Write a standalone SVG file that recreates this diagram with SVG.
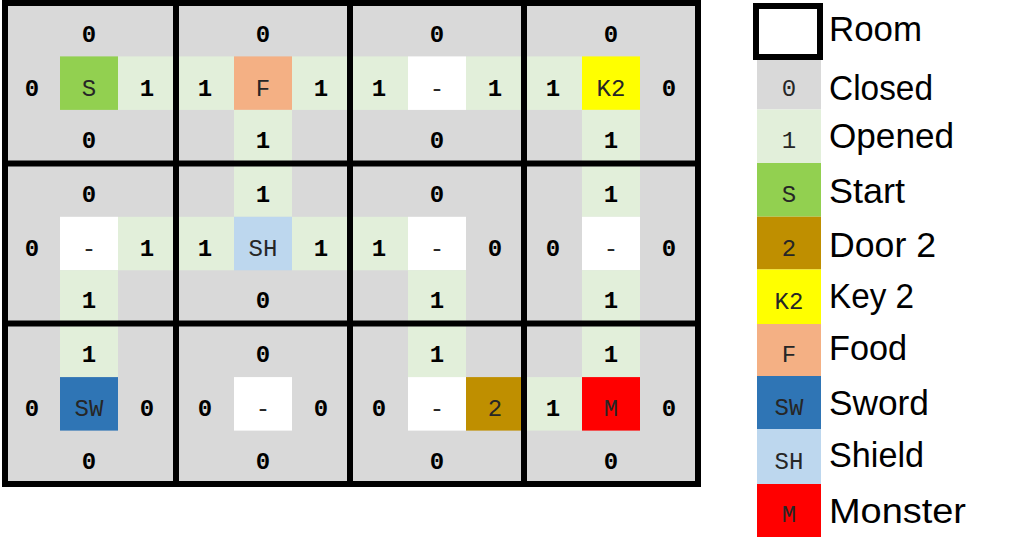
<svg xmlns="http://www.w3.org/2000/svg" width="1024" height="539" viewBox="0 0 1024 539">
<style>
.g{fill:#d9d9d9}
.o{fill:#e2efda}
.w{fill:#ffffff}
.st{fill:#92d050}
.fd{fill:#f4b084}
.ky{fill:#ffff00}
.dr{fill:#bf8f00}
.sw{fill:#2f75b5}
.sh{fill:#bdd7ee}
.mo{fill:#ff0000}
.n{font-family:"Liberation Mono",monospace;font-weight:bold;font-size:24px;fill:#000;text-anchor:middle}
.l{font-family:"Liberation Mono",monospace;font-size:24px;fill:#262626;text-anchor:middle}
.t{font-family:"Liberation Sans",Arial,sans-serif;font-size:35px;fill:#000}
.b{fill:none;stroke:#000;stroke-width:6}
</style>
<rect x="2" y="3" width="696" height="481" class="g"/>
<!-- Row 0 -->
<g id="room-0-0">
<text x="89" y="42" class="n">0</text>
<text x="32" y="96" class="n">0</text>
<rect x="60" y="56.4" width="58" height="53.5" class="st"/><text x="89" y="96" class="l">S</text>
<rect x="118" y="56.4" width="58" height="53.5" class="o"/><text x="147" y="96" class="n">1</text>
<text x="89" y="148" class="n">0</text>
</g>
<g id="room-0-1">
<text x="263" y="42" class="n">0</text>
<rect x="176" y="56.4" width="58" height="53.5" class="o"/><text x="205" y="96" class="n">1</text>
<rect x="234" y="56.4" width="58" height="53.5" class="fd"/><text x="263" y="96" class="l">F</text>
<rect x="292" y="56.4" width="58" height="53.5" class="o"/><text x="321" y="96" class="n">1</text>
<rect x="234" y="109.9" width="58" height="53.5" class="o"/><text x="263" y="148" class="n">1</text>
</g>
<g id="room-0-2">
<text x="437" y="42" class="n">0</text>
<rect x="350" y="56.4" width="58" height="53.5" class="o"/><text x="379" y="96" class="n">1</text>
<rect x="408" y="56.4" width="58" height="53.5" class="w"/><text x="437" y="96" class="l">-</text>
<rect x="466" y="56.4" width="58" height="53.5" class="o"/><text x="495" y="96" class="n">1</text>
<text x="437" y="148" class="n">0</text>
</g>
<g id="room-0-3">
<text x="611" y="42" class="n">0</text>
<rect x="524" y="56.4" width="58" height="53.5" class="o"/><text x="553" y="96" class="n">1</text>
<rect x="582" y="56.4" width="58" height="53.5" class="ky"/><text x="611" y="96" class="l">K2</text>
<text x="669" y="96" class="n">0</text>
<rect x="582" y="109.9" width="58" height="53.5" class="o"/><text x="611" y="148" class="n">1</text>
</g>
<!-- Row 1 -->
<g id="room-1-0">
<text x="89" y="202" class="n">0</text>
<text x="32" y="256" class="n">0</text>
<rect x="60" y="216.8" width="58" height="53.5" class="w"/><text x="89" y="256" class="l">-</text>
<rect x="118" y="216.8" width="58" height="53.5" class="o"/><text x="147" y="256" class="n">1</text>
<rect x="60" y="270.2" width="58" height="53.5" class="o"/><text x="89" y="308" class="n">1</text>
</g>
<g id="room-1-1">
<rect x="234" y="163.3" width="58" height="53.5" class="o"/><text x="263" y="202" class="n">1</text>
<rect x="176" y="216.8" width="58" height="53.5" class="o"/><text x="205" y="256" class="n">1</text>
<rect x="234" y="216.8" width="58" height="53.5" class="sh"/><text x="263" y="256" class="l">SH</text>
<rect x="292" y="216.8" width="58" height="53.5" class="o"/><text x="321" y="256" class="n">1</text>
<text x="263" y="308" class="n">0</text>
</g>
<g id="room-1-2">
<text x="437" y="202" class="n">0</text>
<rect x="350" y="216.8" width="58" height="53.5" class="o"/><text x="379" y="256" class="n">1</text>
<rect x="408" y="216.8" width="58" height="53.5" class="w"/><text x="437" y="256" class="l">-</text>
<text x="495" y="256" class="n">0</text>
<rect x="408" y="270.2" width="58" height="53.5" class="o"/><text x="437" y="308" class="n">1</text>
</g>
<g id="room-1-3">
<rect x="582" y="163.3" width="58" height="53.5" class="o"/><text x="611" y="202" class="n">1</text>
<text x="553" y="256" class="n">0</text>
<rect x="582" y="216.8" width="58" height="53.5" class="w"/><text x="611" y="256" class="l">-</text>
<text x="669" y="256" class="n">0</text>
<rect x="582" y="270.2" width="58" height="53.5" class="o"/><text x="611" y="308" class="n">1</text>
</g>
<!-- Row 2 -->
<g id="room-2-0">
<rect x="60" y="323.6" width="58" height="53.5" class="o"/><text x="89" y="362" class="n">1</text>
<text x="32" y="416" class="n">0</text>
<rect x="60" y="377.1" width="58" height="53.5" class="sw"/><text x="89" y="416" class="l">SW</text>
<text x="147" y="416" class="n">0</text>
<text x="89" y="469" class="n">0</text>
</g>
<g id="room-2-1">
<text x="263" y="362" class="n">0</text>
<text x="205" y="416" class="n">0</text>
<rect x="234" y="377.1" width="58" height="53.5" class="w"/><text x="263" y="416" class="l">-</text>
<text x="321" y="416" class="n">0</text>
<text x="263" y="469" class="n">0</text>
</g>
<g id="room-2-2">
<rect x="408" y="323.6" width="58" height="53.5" class="o"/><text x="437" y="362" class="n">1</text>
<text x="379" y="416" class="n">0</text>
<rect x="408" y="377.1" width="58" height="53.5" class="w"/><text x="437" y="416" class="l">-</text>
<rect x="466" y="377.1" width="58" height="53.5" class="dr"/><text x="495" y="416" class="l">2</text>
<text x="437" y="469" class="n">0</text>
</g>
<g id="room-2-3">
<rect x="582" y="323.6" width="58" height="53.5" class="o"/><text x="611" y="362" class="n">1</text>
<rect x="524" y="377.1" width="58" height="53.5" class="o"/><text x="553" y="416" class="n">1</text>
<rect x="582" y="377.1" width="58" height="53.5" class="mo"/><text x="611" y="416" class="l">M</text>
<text x="669" y="416" class="n">0</text>
<text x="611" y="469" class="n">0</text>
</g>
<g id="room-borders">
<rect x="5" y="3" width="693" height="481" class="b"/>
<line x1="176" y1="3" x2="176" y2="484" class="b"/>
<line x1="350" y1="3" x2="350" y2="484" class="b"/>
<line x1="524" y1="3" x2="524" y2="484" class="b"/>
<line x1="5" y1="163.5" x2="698" y2="163.5" class="b"/>
<line x1="5" y1="323.5" x2="698" y2="323.5" class="b"/>
</g>
<g id="legend">
<g id="legend-room"><rect x="756" y="6" width="64" height="51" fill="#fff" stroke="#000" stroke-width="6"/><text x="829" y="41" class="t" textLength="93" lengthAdjust="spacingAndGlyphs">Room</text></g>
<g id="legend-closed"><rect x="757" y="60" width="64" height="49.5" class="g"/><text x="789" y="96" class="l">0</text><text x="829" y="100" class="t" textLength="104" lengthAdjust="spacingAndGlyphs">Closed</text></g>
<g id="legend-opened"><rect x="757" y="109.5" width="64" height="53.5" class="o"/><text x="789" y="148" class="l">1</text><text x="829" y="148" class="t" textLength="125" lengthAdjust="spacingAndGlyphs">Opened</text></g>
<g id="legend-start"><rect x="757" y="163" width="64" height="53.7" class="st"/><text x="789" y="202" class="l">S</text><text x="829" y="203" class="t" textLength="76" lengthAdjust="spacingAndGlyphs">Start</text></g>
<g id="legend-door"><rect x="757" y="216.7" width="64" height="52.8" class="dr"/><text x="789" y="256" class="l">2</text><text x="829" y="257" class="t" textLength="107" lengthAdjust="spacingAndGlyphs">Door 2</text></g>
<g id="legend-key"><rect x="757" y="269.5" width="64" height="54.5" class="ky"/><text x="789" y="309" class="l">K2</text><text x="829" y="308" class="t" textLength="85" lengthAdjust="spacingAndGlyphs">Key 2</text></g>
<g id="legend-food"><rect x="757" y="324" width="64" height="52" class="fd"/><text x="789" y="362" class="l">F</text><text x="829" y="360" class="t" textLength="78" lengthAdjust="spacingAndGlyphs">Food</text></g>
<g id="legend-sword"><rect x="757" y="376" width="64" height="53" class="sw"/><text x="789" y="415" class="l">SW</text><text x="829" y="415" class="t" textLength="100" lengthAdjust="spacingAndGlyphs">Sword</text></g>
<g id="legend-shield"><rect x="757" y="429" width="64" height="55" class="sh"/><text x="789" y="469" class="l">SH</text><text x="829" y="467" class="t" textLength="95" lengthAdjust="spacingAndGlyphs">Shield</text></g>
<g id="legend-monster"><rect x="757" y="484" width="64" height="53" class="mo"/><text x="789" y="522" class="l">M</text><text x="829" y="523" class="t" textLength="137" lengthAdjust="spacingAndGlyphs">Monster</text></g>
</g>
</svg>
